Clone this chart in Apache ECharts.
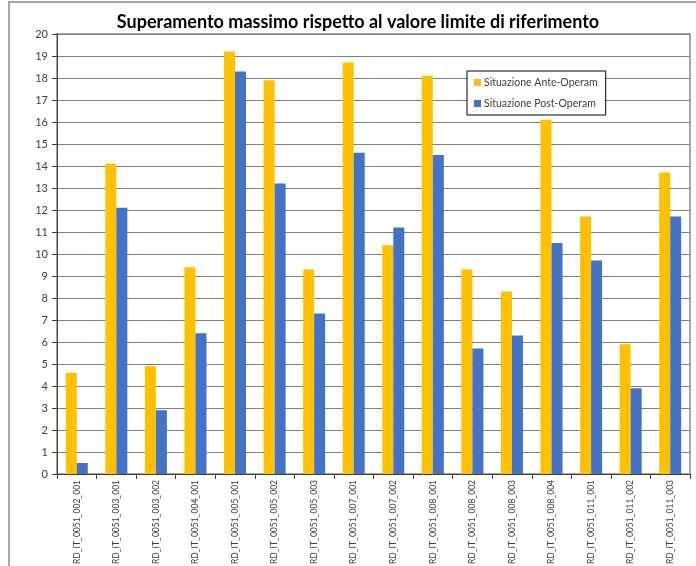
<!DOCTYPE html>
<html>
<head>
<meta charset="utf-8">
<script src="https://cdn.jsdelivr.net/npm/echarts@6/dist/echarts.min.js"></script>
<style>
  html, body { margin: 0; padding: 0; background: #ffffff; }
  #chart { width: 696px; height: 566px; }
</style>
</head>
<body>
<div id="chart"></div>
<script>
// Receptor codes along the x axis
const categories = [
  'RD_IT_0051_002_001', 'RD_IT_0051_003_001', 'RD_IT_0051_003_002', 'RD_IT_0051_004_001',
  'RD_IT_0051_005_001', 'RD_IT_0051_005_002', 'RD_IT_0051_005_003', 'RD_IT_0051_007_001',
  'RD_IT_0051_007_002', 'RD_IT_0051_008_001', 'RD_IT_0051_008_002', 'RD_IT_0051_008_003',
  'RD_IT_0051_008_004', 'RD_IT_0051_011_001', 'RD_IT_0051_011_002', 'RD_IT_0051_011_003'
];

// Maximum exceedance over the reference limit, before and after the works
const anteOperam = [4.6, 14.1, 4.9, 9.4, 19.2, 17.9, 9.3, 18.7, 10.4, 18.1, 9.3, 8.3, 16.1, 11.7, 5.9, 13.7];
const postOperam = [0.5, 12.1, 2.9, 6.4, 18.3, 13.2, 7.3, 14.6, 11.2, 14.5, 5.7, 6.3, 10.5, 9.7, 3.9, 11.7];

const seriesNames = ['Situazione Ante-Operam', 'Situazione Post-Operam'];
const titleText = 'Superamento massimo rispetto al valore limite di riferimento';

const yMin = 0, yMax = 20, yStep = 1;

const chart = echarts.init(document.getElementById('chart'), null, { renderer: 'canvas' });

chart.setOption({
  backgroundColor: '#ffffff',
  animation: false,
  title: {
    text: titleText,
    left: 353,
    textAlign: 'center',
    top: 8,
    textStyle: { fontFamily: 'Lato', fontWeight: 'bold', fontSize: 18, color: '#000000' }
  },
  legend: {
    orient: 'vertical',
    left: 467,
    top: 71,
    itemWidth: 7,
    itemHeight: 7,
    itemGap: 10,
    padding: [6, 8, 6, 7],
    backgroundColor: '#ffffff',
    borderColor: '#000000',
    borderWidth: 1,
    icon: 'rect',
    textStyle: { fontFamily: 'Lato', fontSize: 10.5, color: '#404040', padding: [0, 0, 0, -2] },
    data: seriesNames
  },
  grid: {
    left: 57,
    right: 6,
    top: 34,
    bottom: 92,
    outerBoundsMode: 'none',
    containLabel: false,
    show: true,
    borderColor: '#a6a6a6',
    borderWidth: 2,
    backgroundColor: 'transparent'
  },
  xAxis: {
    type: 'category',
    data: categories,
    axisLine: { lineStyle: { color: '#404040', width: 1 } },
    axisTick: { show: true, length: 5, lineStyle: { color: '#404040' } },
    axisLabel: {
      rotate: 90,
      fontFamily: 'Lato',
      fontSize: 8.5,
      color: '#404040',
      margin: 6
    }
  },
  yAxis: {
    type: 'value',
    min: yMin,
    max: yMax,
    interval: yStep,
    axisLine: { show: true, lineStyle: { color: '#404040', width: 1 } },
    axisTick: { show: true, length: 5, lineStyle: { color: '#404040' } },
    axisLabel: { fontFamily: 'Lato', fontSize: 11, color: '#404040', margin: 9 },
    splitLine: { show: true, lineStyle: { color: '#7f7f7f', width: 1 } }
  },
  series: [
    {
      name: seriesNames[0],
      type: 'bar',
      data: anteOperam,
      barWidth: 11,
      barGap: '0%',
      itemStyle: { color: '#ffc000' }
    },
    {
      name: seriesNames[1],
      type: 'bar',
      data: postOperam,
      barWidth: 11,
      barGap: '0%',
      itemStyle: { color: '#4472c4' }
    }
  ],
  graphic: [
    {
      type: 'polyline',
      silent: true,
      shape: { points: [[9, 566], [9, 2], [696, 2]] },
      style: { stroke: '#a6a6a6', lineWidth: 2, fill: null }
    }
  ]
});
</script>
</body>
</html>
